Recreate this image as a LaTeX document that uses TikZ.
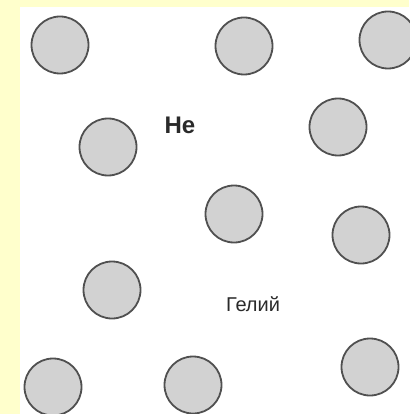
\documentclass[tikz,border=0pt]{standalone}
\usepackage{fontspec}
\setmainfont{Liberation Sans}
\usepackage{xcolor}
\usepackage{tikz}
\definecolor{Pale}{HTML}{FFFFCC}
\definecolor{AtomFill}{HTML}{D2D2D2}
\definecolor{AtomLine}{HTML}{505050}
\definecolor{Ink}{HTML}{2A2A2A}

\begin{document}
\begin{tikzpicture}[x=1pt,y=-1pt,
    atom/.style={circle,draw=AtomLine,fill=AtomFill,line width=1.8pt,minimum size=57pt,inner sep=0pt},
    lbl/.style={text=Ink,inner sep=0pt}]
    % frame
    \fill[Pale] (0,0) rectangle (409,414);
    \fill[white] (20,7) rectangle (409,414);
    \useasboundingbox (0,0) rectangle (409,414);
    % helium atoms
    \node[atom] (a1) at (60,45) {};
    \node[atom] (a2) at (244,46) {};
    \node[atom] (a3) at (388,40) {};
    \node[atom] (a4) at (108,147) {};
    \node[atom] (a5) at (338,127) {};
    \node[atom] (a6) at (234,214) {};
    \node[atom] (a7) at (361,235) {};
    \node[atom] (a8) at (112,290) {};
    \node[atom] (a9) at (53,387) {};
    \node[atom] (a10) at (193,385) {};
    \node[atom] (a11) at (370,367) {};
    % labels
    \node[lbl,font=\bfseries\fontsize{24}{26}\selectfont] (he) at (180,125) {He};
    \node[lbl,font=\fontsize{20}{22}\selectfont] (name) at (253,304) {Гелий};
\end{tikzpicture}
\end{document}
